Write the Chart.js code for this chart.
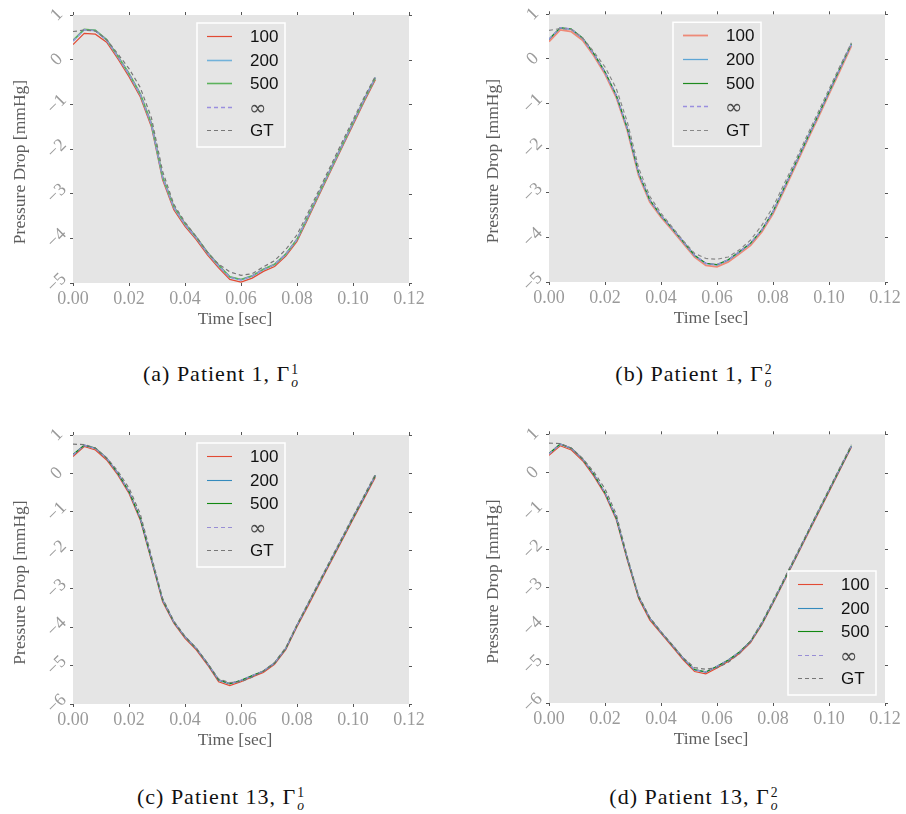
<!DOCTYPE html>
<html>
<head>
<meta charset="utf-8">
<script src="https://cdn.jsdelivr.net/npm/chart.js@4.4.1/dist/chart.umd.min.js"></script>
<style>
    html, body { margin: 0; padding: 0; background: #fff; }
    body { width: 906px; height: 814px; position: relative; overflow: hidden; }
    canvas { position: absolute; }
    .cap {
        position: absolute;
        width: 453px;
        text-align: center;
        font-family: 'Liberation Serif', serif;
        font-size: 22px;
        letter-spacing: 1px;
        color: #111;
        line-height: 24px;
    }
    .ss {
        display: inline-block;
        vertical-align: -0.45em;
        font-size: 0.62em;
        line-height: 0.95;
        text-align: left;
        margin-left: 1px;
        letter-spacing: 0;
    }
    .ss span { display: block; }
</style>
</head>
<body>
<canvas id="chartA" width="453" height="340" style="left:0;top:0"></canvas>
<canvas id="chartB" width="453" height="340" style="left:453px;top:0"></canvas>
<canvas id="chartC" width="453" height="340" style="left:0;top:420px"></canvas>
<canvas id="chartD" width="453" height="340" style="left:453px;top:420px"></canvas>

<div class="cap" style="left:-6px;top:362px">(a) Patient 1, Γ<span class="ss"><span>1</span><span><i>o</i></span></span></div>
<div class="cap" style="left:467px;top:362px">(b) Patient 1, Γ<span class="ss"><span>2</span><span><i>o</i></span></span></div>
<div class="cap" style="left:-6px;top:785px">(c) Patient 13, Γ<span class="ss"><span>1</span><span><i>o</i></span></span></div>
<div class="cap" style="left:467px;top:785px">(d) Patient 13, Γ<span class="ss"><span>2</span><span><i>o</i></span></span></div>

<script>
// time samples [sec]
const timeSec = [0.000, 0.004, 0.008, 0.012, 0.016, 0.020, 0.024, 0.028, 0.032, 0.036,
    0.040, 0.044, 0.048, 0.052, 0.056, 0.060, 0.064, 0.068, 0.072, 0.076,
    0.080, 0.084, 0.088, 0.092, 0.096, 0.100, 0.104, 0.108];

const seriesLabels = ['100', '200', '500', '\u221E', 'GT'];
const xTickValues = [0, 0.02, 0.04, 0.06, 0.08, 0.10, 0.12];
const yTicksPatient1 = [1, 0, -1, -2, -3, -4, -5];
const yTicksPatient13 = [1, 0, -1, -2, -3, -4, -5, -6];

// (a) Patient 1, outlet 1
const a100 = [0.34, 0.59, 0.57, 0.39, 0.02, -0.38, -0.83, -1.50, -2.69, -3.36, -3.73, -4.03, -4.37, -4.66, -4.92, -4.98, -4.89, -4.74, -4.63, -4.40, -4.07, -3.55, -3.02, -2.50, -1.98, -1.46, -0.94, -0.45];
const a200 = [0.42, 0.67, 0.65, 0.44, 0.07, -0.33, -0.78, -1.45, -2.64, -3.31, -3.69, -3.99, -4.33, -4.62, -4.87, -4.93, -4.85, -4.70, -4.59, -4.36, -4.03, -3.51, -2.98, -2.46, -1.94, -1.42, -0.90, -0.41];
const a500 = [0.43, 0.68, 0.66, 0.45, 0.08, -0.31, -0.76, -1.43, -2.62, -3.29, -3.67, -3.97, -4.31, -4.60, -4.86, -4.92, -4.84, -4.69, -4.58, -4.35, -4.02, -3.50, -2.97, -2.45, -1.93, -1.41, -0.89, -0.40];
const aInf = [0.42, 0.67, 0.65, 0.44, 0.07, -0.32, -0.77, -1.44, -2.63, -3.30, -3.68, -3.98, -4.32, -4.61, -4.87, -4.93, -4.84, -4.70, -4.58, -4.35, -4.02, -3.50, -2.97, -2.45, -1.93, -1.41, -0.89, -0.40];
const aGT = [0.63, 0.66, 0.64, 0.45, 0.13, -0.20, -0.62, -1.30, -2.50, -3.24, -3.64, -3.96, -4.31, -4.58, -4.75, -4.83, -4.79, -4.64, -4.50, -4.25, -3.92, -3.42, -2.90, -2.38, -1.86, -1.35, -0.84, -0.37];

// (b) Patient 1, outlet 2
const b100 = [0.39, 0.65, 0.61, 0.42, 0.07, -0.34, -0.86, -1.61, -2.61, -3.21, -3.55, -3.84, -4.14, -4.44, -4.63, -4.66, -4.55, -4.37, -4.18, -3.88, -3.47, -2.94, -2.40, -1.86, -1.33, -0.79, -0.25, 0.29];
const b200 = [0.44, 0.69, 0.66, 0.46, 0.11, -0.30, -0.82, -1.57, -2.57, -3.17, -3.52, -3.81, -4.11, -4.41, -4.59, -4.62, -4.51, -4.33, -4.14, -3.84, -3.43, -2.90, -2.36, -1.82, -1.29, -0.75, -0.21, 0.33];
const b500 = [0.44, 0.70, 0.67, 0.47, 0.12, -0.29, -0.81, -1.56, -2.56, -3.16, -3.51, -3.80, -4.10, -4.40, -4.58, -4.61, -4.50, -4.32, -4.13, -3.83, -3.42, -2.89, -2.35, -1.81, -1.28, -0.74, -0.20, 0.34];
const bInf = [0.44, 0.70, 0.67, 0.46, 0.11, -0.30, -0.81, -1.56, -2.56, -3.16, -3.51, -3.80, -4.10, -4.40, -4.58, -4.61, -4.50, -4.32, -4.13, -3.83, -3.42, -2.89, -2.35, -1.81, -1.28, -0.74, -0.20, 0.34];
const bGT = [0.64, 0.68, 0.66, 0.47, 0.16, -0.18, -0.66, -1.42, -2.44, -3.08, -3.46, -3.77, -4.08, -4.36, -4.47, -4.49, -4.44, -4.28, -4.06, -3.73, -3.32, -2.80, -2.28, -1.74, -1.21, -0.68, -0.15, 0.36];

// (c) Patient 13, outlet 1
const c100 = [0.44, 0.70, 0.61, 0.35, -0.04, -0.52, -1.21, -2.27, -3.34, -3.90, -4.29, -4.59, -4.98, -5.42, -5.52, -5.42, -5.30, -5.18, -4.97, -4.59, -3.99, -3.44, -2.88, -2.32, -1.76, -1.20, -0.65, -0.10];
const c200 = [0.48, 0.73, 0.65, 0.39, 0.00, -0.48, -1.17, -2.23, -3.30, -3.87, -4.26, -4.56, -4.95, -5.38, -5.48, -5.39, -5.27, -5.15, -4.94, -4.56, -3.96, -3.40, -2.84, -2.28, -1.72, -1.16, -0.61, -0.06];
const c500 = [0.49, 0.74, 0.66, 0.40, 0.01, -0.47, -1.16, -2.22, -3.29, -3.86, -4.25, -4.55, -4.94, -5.37, -5.47, -5.38, -5.26, -5.14, -4.93, -4.55, -3.95, -3.39, -2.83, -2.27, -1.71, -1.15, -0.60, -0.05];
const cInf = [0.48, 0.74, 0.65, 0.40, 0.01, -0.47, -1.16, -2.22, -3.29, -3.86, -4.25, -4.55, -4.94, -5.37, -5.47, -5.38, -5.26, -5.14, -4.93, -4.55, -3.95, -3.39, -2.83, -2.27, -1.71, -1.15, -0.60, -0.05];
const cGT = [0.76, 0.75, 0.66, 0.41, 0.06, -0.38, -1.05, -2.15, -3.25, -3.84, -4.24, -4.54, -4.93, -5.35, -5.44, -5.42, -5.30, -5.14, -4.92, -4.53, -3.93, -3.37, -2.80, -2.24, -1.68, -1.12, -0.57, -0.02];

// (d) Patient 13, outlet 2
const d100 = [0.45, 0.70, 0.59, 0.31, -0.09, -0.57, -1.22, -2.29, -3.28, -3.84, -4.19, -4.53, -4.88, -5.18, -5.24, -5.09, -4.92, -4.71, -4.43, -3.97, -3.41, -2.83, -2.25, -1.66, -1.08, -0.50, 0.08, 0.66];
const d200 = [0.49, 0.74, 0.63, 0.35, -0.05, -0.53, -1.18, -2.25, -3.24, -3.80, -4.16, -4.50, -4.85, -5.14, -5.20, -5.05, -4.89, -4.68, -4.40, -3.94, -3.38, -2.80, -2.22, -1.63, -1.05, -0.47, 0.11, 0.69];
const d500 = [0.50, 0.75, 0.64, 0.36, -0.04, -0.52, -1.17, -2.24, -3.23, -3.79, -4.15, -4.49, -4.84, -5.13, -5.19, -5.04, -4.88, -4.67, -4.39, -3.93, -3.37, -2.79, -2.21, -1.62, -1.04, -0.46, 0.12, 0.70];
const dInf = [0.49, 0.75, 0.64, 0.36, -0.04, -0.52, -1.17, -2.24, -3.23, -3.79, -4.15, -4.49, -4.84, -5.13, -5.19, -5.04, -4.88, -4.67, -4.39, -3.93, -3.37, -2.79, -2.21, -1.62, -1.04, -0.46, 0.12, 0.70];
const dGT = [0.77, 0.76, 0.64, 0.37, 0.02, -0.42, -1.08, -2.20, -3.20, -3.77, -4.14, -4.48, -4.83, -5.08, -5.12, -5.08, -4.94, -4.71, -4.38, -3.90, -3.34, -2.76, -2.18, -1.60, -1.01, -0.43, 0.15, 0.73];

const panels = [
    {
        id: 'chartA', series: [a100, a200, a500, aInf, aGT], yTicks: yTicksPatient1,
        colors: ['#E24A33', '#72B2DA', '#5CB25C', '#9A8FDF', '#777777'],
        widths: [1.2, 1.6, 1.6, 1.3, 1.2],
        top: 15, right: 44, yAxisW: 73, xAxisH: 57, yTitleX: 20, legend: 'upper center',
    },
    {
        id: 'chartB', series: [b100, b200, b500, bInf, bGT], yTicks: yTicksPatient1,
        colors: ['#EE8A78', '#5DA5D5', '#1E8A1E', '#9A8FDF', '#888888'],
        widths: [1.8, 1.3, 1.2, 1.3, 1.2],
        top: 13, right: 21, yAxisW: 96, xAxisH: 58, yTitleX: 40, legend: 'upper center',
    },
    {
        id: 'chartC', series: [c100, c200, c500, cInf, cGT], yTicks: yTicksPatient13,
        colors: ['#E24A33', '#348ABD', '#118811', '#988ED5', '#777777'],
        widths: [1.1, 1.1, 1.1, 1.2, 1.2],
        top: 15, right: 44, yAxisW: 73, xAxisH: 56, yTitleX: 20, legend: 'upper center',
    },
    {
        id: 'chartD', series: [d100, d200, d500, dInf, dGT], yTicks: yTicksPatient13,
        colors: ['#E24A33', '#348ABD', '#118811', '#988ED5', '#777777'],
        widths: [1.1, 1.1, 1.1, 1.2, 1.2],
        top: 13, right: 21, yAxisW: 96, xAxisH: 57, yTitleX: 40, legend: 'lower right',
    },
];

const panelDecor = {
    id: 'panelDecor',
    beforeDraw(chart) {
        const { ctx, chartArea: a } = chart;
        ctx.save();
        ctx.fillStyle = '#e5e5e5';
        ctx.fillRect(a.left, a.top, a.right - a.left, a.bottom - a.top);
        ctx.restore();
    },
    afterDraw(chart, args, opts) {
        const { ctx, chartArea: a, scales } = chart;
        ctx.save();

        // tick marks mirrored on top and right
        ctx.strokeStyle = '#555';
        ctx.lineWidth = 1;
        ctx.beginPath();
        scales.x.ticks.forEach((t) => {
            const px = Math.round(scales.x.getPixelForValue(t.value)) + 0.5;
            ctx.moveTo(px, a.top);
            ctx.lineTo(px, a.top - 3);
        });
        scales.y.ticks.forEach((t) => {
            const py = Math.round(scales.y.getPixelForValue(t.value)) + 0.5;
            ctx.moveTo(a.right, py);
            ctx.lineTo(a.right + 3, py);
        });
        ctx.stroke();

        // axis titles
        ctx.fillStyle = '#5e5e5e';
        ctx.font = '17.5px "Liberation Serif"';
        ctx.textAlign = 'center';
        ctx.textBaseline = 'middle';
        ctx.fillText('Time [sec]', (a.left + a.right) / 2 - 6, a.bottom + 36);
        ctx.save();
        ctx.translate(opts.yTitleX, (a.top + a.bottom) / 2 + 13);
        ctx.rotate(-Math.PI / 2);
        ctx.fillText('Pressure Drop [mmHg]', 0, 0);
        ctx.restore();

        // legend inside the plot area
        const boxW = 88;
        const boxH = 124;
        let bx = (a.left + a.right) / 2 - boxW / 2;
        let by = a.top + 8;
        if (opts.legend === 'lower right') {
            bx = a.right - 9 - boxW;
            by = a.bottom - 8 - boxH;
        }
        ctx.fillStyle = '#e5e5e5';
        ctx.fillRect(bx, by, boxW, boxH);
        ctx.strokeStyle = '#ffffff';
        ctx.lineWidth = 1.5;
        ctx.strokeRect(bx, by, boxW, boxH);

        chart.data.datasets.forEach((ds, i) => {
            const y = Math.round(by + 13 + i * 23.6) + 0.5;
            ctx.strokeStyle = ds.borderColor;
            ctx.lineWidth = ds.borderWidth;
            ctx.setLineDash(ds.borderDash || []);
            ctx.beginPath();
            ctx.moveTo(bx + 10, y);
            ctx.lineTo(bx + 35, y);
            ctx.stroke();
            ctx.setLineDash([]);
            ctx.textAlign = 'left';
            ctx.textBaseline = 'middle';
            if (ds.label === '\u221E') {
                ctx.fillStyle = '#4a4a4a';
                ctx.font = '21px "DejaVu Sans"';
                ctx.fillText(ds.label, bx + 52, y + 2);
            } else {
                ctx.fillStyle = '#111';
                ctx.font = '17px "Liberation Sans"';
                ctx.fillText(ds.label, bx + 53, y + 1);
            }
        });

        ctx.restore();
    },
};

const formatMinus = (v) => (v < 0 ? '\u2212' + Math.abs(v) : String(v));

panels.forEach((p) => {
    const canvas = document.getElementById(p.id);
    const datasets = p.series.map((values, i) => ({
        label: seriesLabels[i],
        data: values.map((v, k) => ({ x: timeSec[k], y: v })),
        borderColor: p.colors[i],
        borderWidth: p.widths[i],
        borderDash: i >= 3 ? [4, 3] : [],
        pointRadius: 0,
        tension: 0,
        fill: false,
        order: 5 - i,
    }));

    const tickFont = { family: 'Liberation Serif', size: 18 };

    new Chart(canvas, {
        type: 'line',
        data: { datasets },
        plugins: [panelDecor],
        options: {
            responsive: false,
            animation: false,
            devicePixelRatio: 1,
            layout: { padding: { left: 0, top: p.top, right: p.right, bottom: 0 } },
            plugins: {
                legend: { display: false },
                tooltip: { enabled: false },
                panelDecor: { yTitleX: p.yTitleX, legend: p.legend },
            },
            scales: {
                x: {
                    type: 'linear',
                    min: xTickValues[0],
                    max: xTickValues[xTickValues.length - 1],
                    afterBuildTicks: (s) => { s.ticks = xTickValues.map((v) => ({ value: v })); },
                    afterFit: (s) => { s.height = p.xAxisH; },
                    ticks: {
                        callback: (v) => Number(v).toFixed(2),
                        color: '#9a9a9a',
                        font: tickFont,
                        padding: 2,
                        minRotation: 0,
                        maxRotation: 0,
                        autoSkip: false,
                    },
                    grid: { drawOnChartArea: false, tickLength: 3, color: '#555' },
                    border: { display: false },
                },
                y: {
                    type: 'linear',
                    min: p.yTicks[p.yTicks.length - 1],
                    max: p.yTicks[0],
                    afterBuildTicks: (s) => { s.ticks = p.yTicks.slice().reverse().map((v) => ({ value: v })); },
                    afterFit: (s) => { s.width = p.yAxisW; },
                    ticks: {
                        callback: (v) => formatMinus(v),
                        color: '#9a9a9a',
                        font: tickFont,
                        padding: 3.5,
                        minRotation: 45,
                        maxRotation: 45,
                        crossAlign: 'center',
                        autoSkip: false,
                    },
                    grid: { drawOnChartArea: false, tickLength: 3, color: '#555' },
                    border: { display: false },
                },
            },
        },
    });
});
</script>
</body>
</html>
